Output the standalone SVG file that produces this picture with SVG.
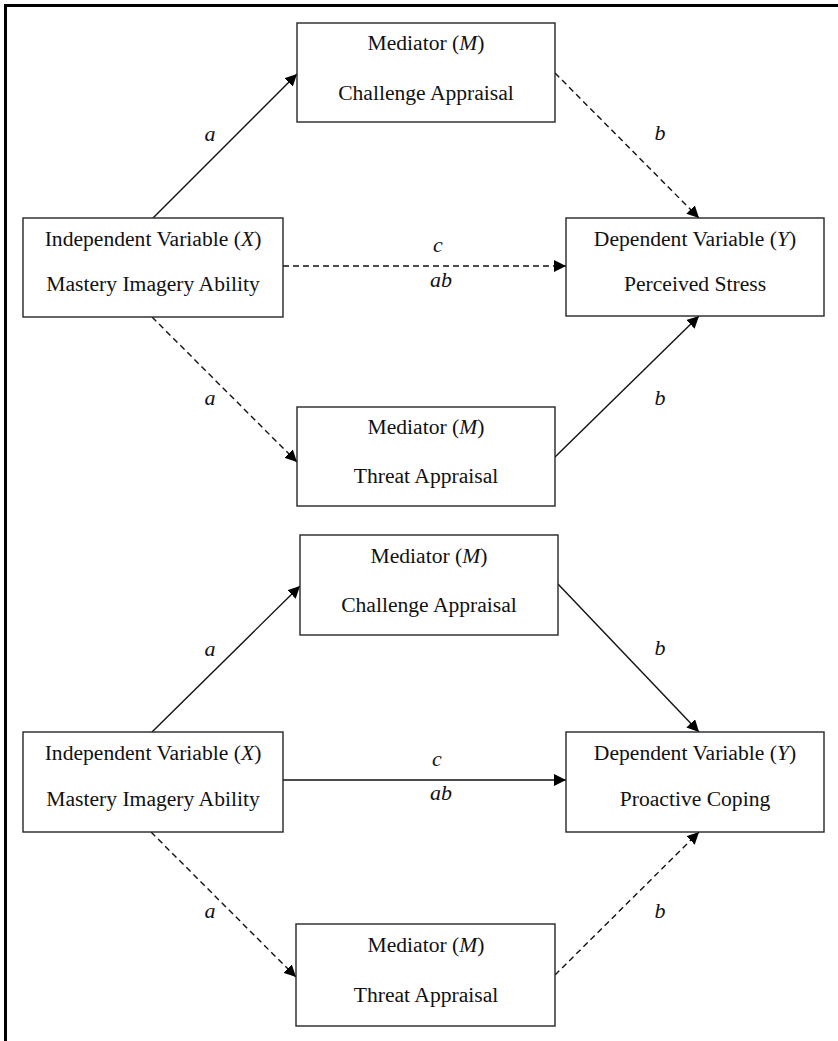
<svg xmlns="http://www.w3.org/2000/svg" width="838" height="1041" viewBox="0 0 838 1041">
<style>
  .box { fill: #fff; stroke: #262626; stroke-width: 1.4; }
  .t { font-family: "Liberation Serif", "Times New Roman", serif; font-size: 21.6px; fill: #111; text-anchor: middle; }
  .i { font-style: italic; }
  .lbl { font-family: "Liberation Serif", "Times New Roman", serif; font-size: 22px; font-style: italic; fill: #111; text-anchor: middle; }
  .solid { stroke: #111; stroke-width: 1.4; fill: none; marker-end: url(#arr); }
  .dash { stroke: #111; stroke-width: 1.4; fill: none; stroke-dasharray: 6 4; marker-end: url(#arr); }
  .frame { stroke: #000; stroke-width: 3; fill: none; }
</style>
<defs>
  <marker id="arr" markerUnits="userSpaceOnUse" markerWidth="13" markerHeight="12" refX="12" refY="6" orient="auto">
    <path d="M0,0 L12,6 L0,12 z" fill="#000"/>
  </marker>
</defs>
<path class="frame" d="M5.5,1041 L5.5,5.5 L838,5.5"/>

<g id="connectors">
  <!-- top group -->
  <line class="solid" x1="153" y1="218" x2="297" y2="74"/>
  <line class="dash" x1="555" y1="73" x2="699" y2="218"/>
  <line class="dash" x1="283" y1="266" x2="566" y2="266"/>
  <line class="dash" x1="152" y1="317" x2="297" y2="462"/>
  <line class="solid" x1="555" y1="457" x2="699" y2="316"/>
  <text class="lbl" x="210" y="141">a</text>
  <text class="lbl" x="660" y="140">b</text>
  <text class="lbl" x="438" y="252">c</text>
  <text class="lbl" x="441" y="287">ab</text>
  <text class="lbl" x="210" y="405">a</text>
  <text class="lbl" x="660" y="405">b</text>
  <!-- bottom group -->
  <line class="solid" x1="152" y1="732" x2="300" y2="586"/>
  <line class="solid" x1="558" y1="584" x2="699" y2="732"/>
  <line class="solid" x1="283" y1="780" x2="566" y2="780"/>
  <line class="dash" x1="151" y1="832" x2="296" y2="977"/>
  <line class="dash" x1="555" y1="975" x2="699" y2="832"/>
  <text class="lbl" x="210" y="656">a</text>
  <text class="lbl" x="660" y="655">b</text>
  <text class="lbl" x="437" y="766">c</text>
  <text class="lbl" x="441" y="800">ab</text>
  <text class="lbl" x="210" y="918">a</text>
  <text class="lbl" x="660" y="918">b</text>
</g>

<g id="top-challenge">
  <rect class="box" x="297" y="23" width="258" height="99"/>
  <text class="t" x="426" y="50">Mediator (<tspan class="i">M</tspan>)</text>
  <text class="t" x="426" y="100">Challenge Appraisal</text>
</g>
<g id="top-independent">
  <rect class="box" x="23" y="218" width="260" height="99"/>
  <text class="t" x="153" y="246">Independent Variable (<tspan class="i">X</tspan>)</text>
  <text class="t" x="153" y="291">Mastery Imagery Ability</text>
</g>
<g id="top-dependent">
  <rect class="box" x="566" y="218" width="258" height="98"/>
  <text class="t" x="695" y="246">Dependent Variable (<tspan class="i">Y</tspan>)</text>
  <text class="t" x="695" y="291">Perceived Stress</text>
</g>
<g id="top-threat">
  <rect class="box" x="297" y="407" width="258" height="99"/>
  <text class="t" x="426" y="434">Mediator (<tspan class="i">M</tspan>)</text>
  <text class="t" x="426" y="483">Threat Appraisal</text>
</g>

<g id="bottom-challenge">
  <rect class="box" x="300" y="535" width="258" height="100"/>
  <text class="t" x="429" y="563">Mediator (<tspan class="i">M</tspan>)</text>
  <text class="t" x="429" y="612">Challenge Appraisal</text>
</g>
<g id="bottom-independent">
  <rect class="box" x="23" y="732" width="260" height="100"/>
  <text class="t" x="153" y="760">Independent Variable (<tspan class="i">X</tspan>)</text>
  <text class="t" x="153" y="806">Mastery Imagery Ability</text>
</g>
<g id="bottom-dependent">
  <rect class="box" x="566" y="732" width="258" height="100"/>
  <text class="t" x="695" y="760">Dependent Variable (<tspan class="i">Y</tspan>)</text>
  <text class="t" x="695" y="806">Proactive Coping</text>
</g>
<g id="bottom-threat">
  <rect class="box" x="296" y="924" width="259" height="102"/>
  <text class="t" x="426" y="952">Mediator (<tspan class="i">M</tspan>)</text>
  <text class="t" x="426" y="1002">Threat Appraisal</text>
</g>
</svg>
